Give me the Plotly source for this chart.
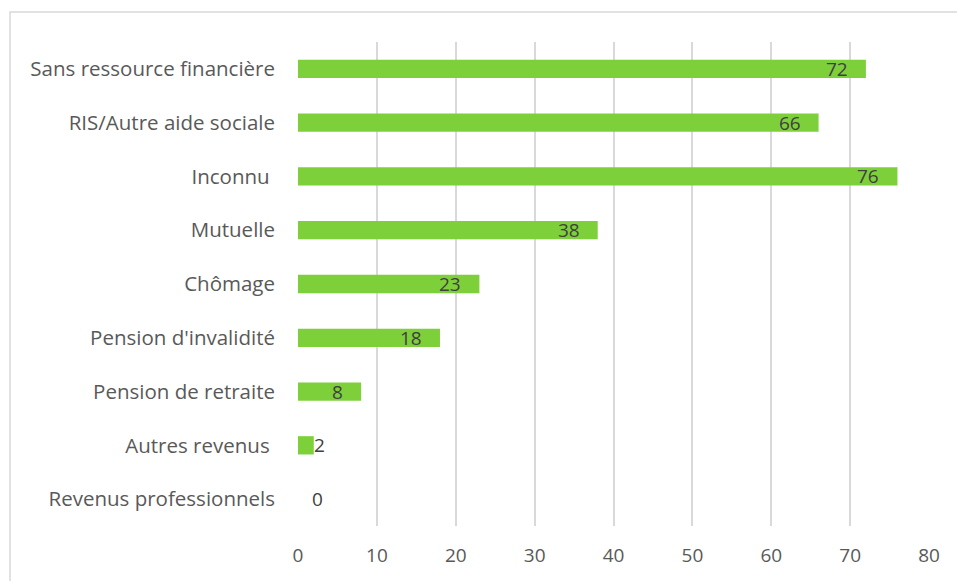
import plotly.graph_objects as go

categories = ["Revenus professionnels", "Autres revenus\u00a0", "Pension de retraite",
              "Pension d'invalidité", "Chômage", "Mutuelle", "Inconnu\u00a0",
              "RIS/Autre aide sociale", "Sans ressource financière"]
values = [0, 2, 8, 18, 23, 38, 76, 66, 72]
x_ticks = [0, 10, 20, 30, 40, 50, 60, 70, 80]

W, H = 957, 581
L, R, T, B = 298, 28, 42, 55

fig = go.Figure()
fig.add_trace(go.Bar(
    x=values, y=categories, orientation="h",
    marker=dict(color="#7ed03b", line=dict(width=0)),
    width=0.34, hoverinfo="x+y",
))

for v, c in zip(values, categories):
    if v >= 8:
        fig.add_annotation(x=v, y=c, text=str(v), showarrow=False,
                           xanchor="right", xshift=-16,
                           font=dict(family="Open Sans", size=19, color="#404040"))
    else:
        fig.add_annotation(x=max(v, 1.8), y=c, text=str(v), showarrow=False,
                           xanchor="left", xshift=-2,
                           font=dict(family="Open Sans", size=19, color="#404040"))

pw = W - L - R
ph = H - T - B
fig.add_shape(type="rect", xref="paper", yref="paper",
              x0=(10 - L) / pw, x1=2, y0=-1, y1=(H - B - 12) / ph,
              line=dict(color="#d9d9d9", width=1.5), fillcolor="rgba(0,0,0,0)", layer="below")

fig.update_layout(
    width=W, height=H,
    margin=dict(l=L, r=R, t=T, b=B),
    paper_bgcolor="white", plot_bgcolor="white",
    showlegend=False,
    font=dict(family="Open Sans", size=19, color="#595959"),
    bargap=0.66,
)
fig.update_xaxes(range=[0, 80], tickvals=x_ticks, showgrid=True, gridcolor="#d9d9d9",
                 gridwidth=1.5, zeroline=False, showline=False, ticks="",
                 tickfont=dict(size=19, color="#595959"), ticklabelstandoff=16, fixedrange=True)
fig.update_yaxes(categoryorder="array", categoryarray=categories, showgrid=False,
                 zeroline=False, showline=False, ticks="", ticklabelstandoff=22,
                 tickfont=dict(size=20.5, color="#595959"), fixedrange=True)

fig.write_html("out.html")
